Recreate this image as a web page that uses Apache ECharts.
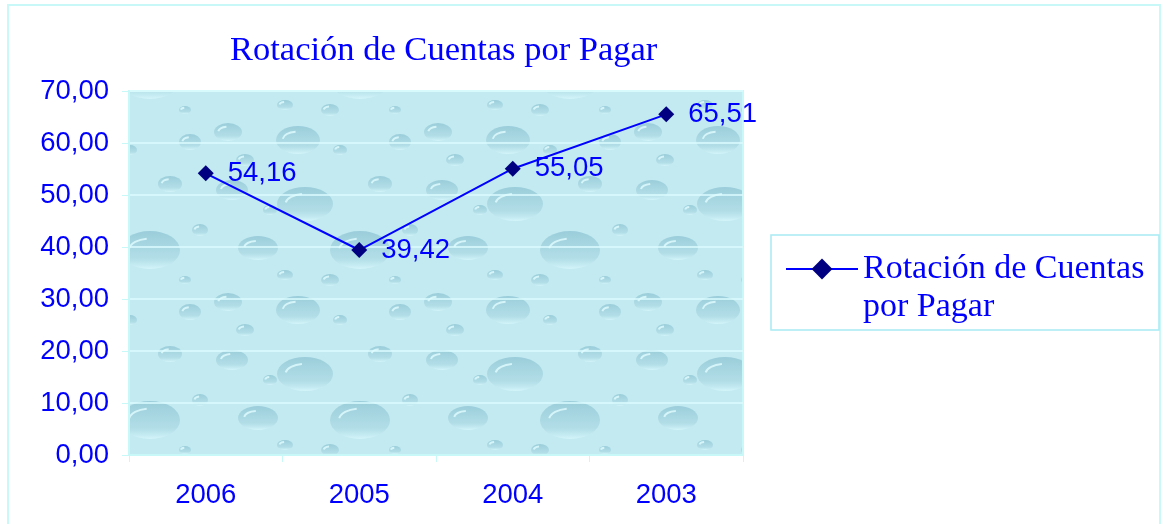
<!DOCTYPE html>
<html>
<head>
<meta charset="utf-8">
<script src="https://cdn.jsdelivr.net/npm/echarts@6/dist/echarts.min.js"></script>
<style>
  html, body { margin: 0; padding: 0; background: #ffffff; }
  #chart { width: 1165px; height: 524px; }
</style>
</head>
<body>
<div id="chart"></div>
<script>
  // datos del gráfico
  const years = ['2006', '2005', '2004', '2003']
  const rotacion = [54.16, 39.42, 55.05, 65.51]
  const seriesName = 'Rotación de Cuentas por Pagar'

  const fmt = (v) => Number(v).toFixed(2).replace('.', ',')

  // textura de gotas de agua para el fondo del área de trazado
  function makeDrops() {
    const c = document.createElement('canvas')
    c.width = 210
    c.height = 170
    const ctx = c.getContext('2d')
    ctx.fillStyle = '#c3eaf1'
    ctx.fillRect(0, 0, 210, 170)
    // x, y, rx, ry
    const drops = [
      [22, 20, 16, 10], [95, 34, 28, 17], [170, 14, 12, 8], [48, 78, 20, 12],
      [150, 80, 30, 19], [18, 132, 14, 9], [88, 140, 22, 14], [190, 142, 11, 8],
      [120, 110, 9, 6], [60, 40, 7, 5], [200, 60, 8, 6], [35, 160, 9, 6],
      [130, 150, 7, 5], [75, 105, 8, 5], [185, 110, 6, 4]
    ]
    drops.forEach(([x, y, rx, ry]) => {
      const g = ctx.createLinearGradient(x, y - ry, x, y + ry)
      g.addColorStop(0, 'rgba(140,196,210,0.75)')
      g.addColorStop(0.7, 'rgba(165,212,224,0.6)')
      g.addColorStop(1, 'rgba(215,248,252,0.8)')
      ctx.fillStyle = g
      ctx.beginPath()
      ctx.ellipse(x, y, rx, ry, 0, 0, Math.PI * 2)
      ctx.fill()
      ctx.strokeStyle = 'rgba(225,252,255,0.8)'
      ctx.lineWidth = 2
      ctx.beginPath()
      ctx.ellipse(x, y, rx * 0.7, ry * 0.6, 0, Math.PI * 1.05, Math.PI * 1.45)
      ctx.stroke()
    })
    return c
  }

  const chart = echarts.init(document.getElementById('chart'))

  chart.setOption({
    animation: false,
    title: {
      text: seriesName,
      left: 225,
      top: 28,
      textStyle: {
        fontFamily: 'Liberation Serif',
        fontSize: 34.5,
        fontWeight: 'normal',
        color: '#0000ff'
      }
    },
    grid: {
      left: 129,
      right: 422,
      top: 91,
      bottom: 69,
      show: true,
      backgroundColor: { image: makeDrops(), repeat: 'repeat' },
      borderColor: '#c8f8f8',
      borderWidth: 2
    },
    legend: {
      data: [seriesName],
      orient: 'vertical',
      left: 785,
      top: 212,
      padding: 0,
      itemWidth: 72,
      itemHeight: 26,
      // línea vacía arriba para que el icono quede a la altura de la primera línea
      formatter: () => ' \nRotación de Cuentas\npor Pagar',
      textStyle: {
        fontFamily: 'Liberation Serif',
        fontSize: 34,
        lineHeight: 38,
        color: '#0000ff'
      }
    },
    graphic: [
      {
        type: 'rect',
        shape: { x: 8, y: 5, width: 1152, height: 530 },
        style: { fill: 'none', stroke: '#c8f8f8', lineWidth: 2 }
      },
      {
        type: 'rect',
        shape: { x: 771, y: 235, width: 388, height: 95 },
        style: { fill: 'none', stroke: '#a8ecf4', lineWidth: 1.5 }
      }
    ],
    xAxis: {
      type: 'category',
      data: years,
      boundaryGap: true,
      axisLine: { lineStyle: { color: '#c8f8f8', width: 2 } },
      axisTick: { show: true, interval: 0, length: 7, lineStyle: { color: '#c8f8f8' } },
      axisLabel: {
        margin: 26,
        fontFamily: 'Liberation Sans',
        fontSize: 27.5,
        color: '#0000ff'
      }
    },
    yAxis: {
      type: 'value',
      min: 0,
      max: 70,
      interval: 10,
      axisLine: { show: true, lineStyle: { color: '#c8f8f8', width: 2 } },
      axisTick: { show: true, length: 7, lineStyle: { color: '#c8f8f8' } },
      splitLine: { lineStyle: { color: '#dcfcff', width: 1.5 } },
      axisLabel: {
        margin: 20,
        fontFamily: 'Liberation Sans',
        fontSize: 27.5,
        color: '#0000ff',
        formatter: fmt
      }
    },
    series: [
      {
        name: seriesName,
        type: 'line',
        data: rotacion,
        symbol: 'diamond',
        symbolSize: 16,
        itemStyle: { color: '#000080' },
        lineStyle: { color: '#0000ff', width: 2 },
        label: {
          show: true,
          position: 'right',
          distance: 14,
          fontFamily: 'Liberation Sans',
          fontSize: 27.5,
          color: '#0000ff',
          formatter: (p) => fmt(p.value)
        }
      }
    ]
  })
</script>
</body>
</html>
